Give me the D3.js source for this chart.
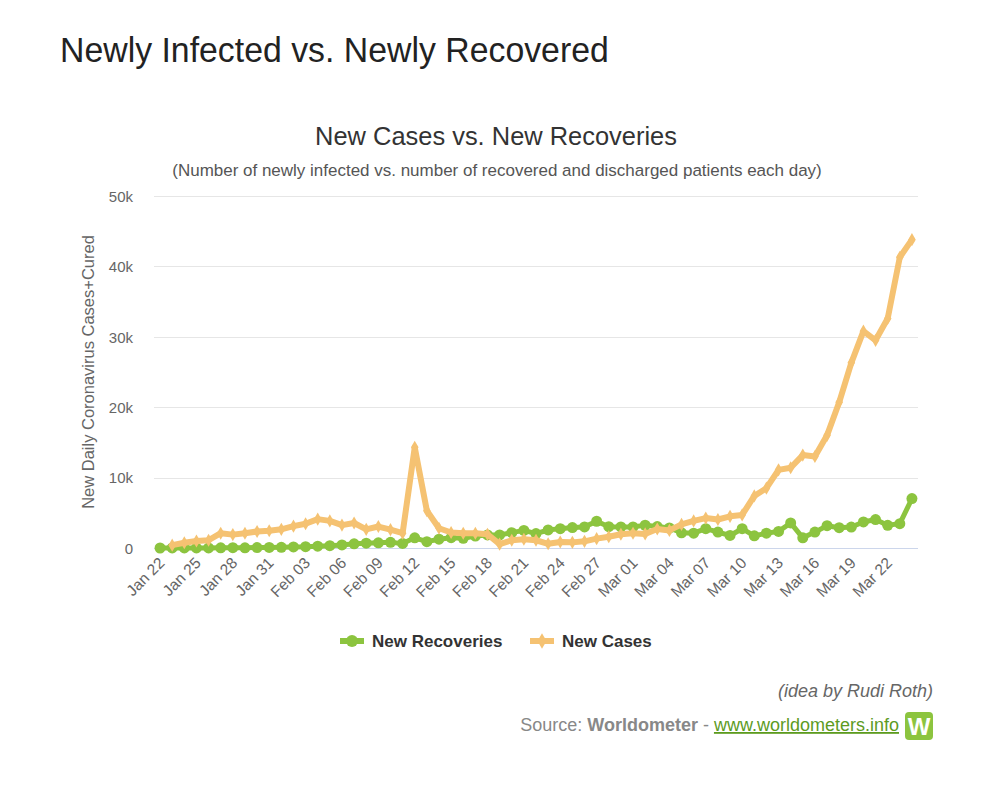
<!DOCTYPE html>
<html>
<head>
<meta charset="utf-8">
<script src="https://cdnjs.cloudflare.com/ajax/libs/d3/7.8.5/d3.min.js"></script>
<style>
  html, body { margin: 0; padding: 0; background: #fff; }
  svg { display: block; font-family: "Liberation Sans", Arial, Helvetica, sans-serif; }
</style>
</head>
<body>
<svg id="chart" width="993" height="800"></svg>
<script>
// ---------- data ----------
const dates = [
  "Jan 22","Jan 23","Jan 24","Jan 25","Jan 26","Jan 27","Jan 28","Jan 29","Jan 30","Jan 31",
  "Feb 01","Feb 02","Feb 03","Feb 04","Feb 05","Feb 06","Feb 07","Feb 08","Feb 09","Feb 10",
  "Feb 11","Feb 12","Feb 13","Feb 14","Feb 15","Feb 16","Feb 17","Feb 18","Feb 19","Feb 20",
  "Feb 21","Feb 22","Feb 23","Feb 24","Feb 25","Feb 26","Feb 27","Feb 28","Feb 29",
  "Mar 01","Mar 02","Mar 03","Mar 04","Mar 05","Mar 06","Mar 07","Mar 08","Mar 09","Mar 10",
  "Mar 11","Mar 12","Mar 13","Mar 14","Mar 15","Mar 16","Mar 17","Mar 18","Mar 19","Mar 20",
  "Mar 21","Mar 22","Mar 23","Mar 24"
];
const newRecoveries = [
  0, 2, 7, 3, 10, 23, 47, 19, 65, 87,
  100, 150, 180, 260, 330, 430, 590, 680, 730, 800,
  650, 1450, 900, 1250, 1470, 1380, 1700, 1850, 1850, 2180,
  2500, 2050, 2560, 2750, 2900, 3000, 3800, 3030, 3000,
  3000, 3230, 3050, 2840, 2160, 2100, 2740, 2260, 1780, 2740,
  1730, 2100, 2360, 3560, 1440, 2260, 3170, 2880, 2980, 3700,
  4040, 3220, 3460, 7020
];
const newCases = [
  null, 400, 750, 1000, 1100, 2100, 1900, 2100, 2350, 2450,
  2650, 3100, 3450, 4100, 3850, 3250, 3550, 2650, 3050, 2600,
  2100, 14300, 5300, 2800, 2200, 2100, 2100, 1950, 550, 1100,
  1240, 1100, 600, 850, 800, 950, 1330, 1600, 1950,
  2100, 2000, 2700, 2500, 3350, 3850, 4250, 4050, 4500, 4700,
  7400, 8500, 11100, 11400, 13200, 13000, 16000, 20700, 26300, 30800,
  29500, 32600, 41300, 43800
];
const yTicks = [0, 10000, 20000, 30000, 40000, 50000];
const yTickLabels = ["0", "10k", "20k", "30k", "40k", "50k"];
const seriesNames = ["New Recoveries", "New Cases"];

// ---------- layout ----------
const svg = d3.select("#chart");
const plot = { left: 154, right: 918, top: 196, bottom: 548 };
const colRec = "#8cc43f";
const colCas = "#f5c272";

const x = d3.scalePoint().domain(dates).range([plot.left, plot.right]).padding(0.5);
const y = d3.scaleLinear().domain([0, 50000]).range([plot.bottom, plot.top]);

// text compressed horizontally to a target width (narrow Helvetica look)
function narrowText(px, py, anchor, fs, color, str, target) {
  const g = svg.append("g");
  const t = g.append("text").attr("x", 0).attr("y", 0)
    .attr("text-anchor", anchor).attr("font-size", fs).attr("fill", color).text(str);
  const w = t.node().getComputedTextLength();
  g.attr("transform", `translate(${px},${py}) scale(${(target / w).toFixed(4)},1)`);
  return t;
}

narrowText(60, 62, "start", 35, "#222", "Newly Infected vs. Newly Recovered", 549);
narrowText(496, 145, "middle", 26, "#333", "New Cases vs. New Recoveries", 362);
narrowText(497, 176, "middle", 17, "#555",
  "(Number of newly infected vs. number of recovered and discharged patients each day)", 650);

// gridlines
svg.append("g").selectAll("line").data(yTicks.slice(1)).join("line")
  .attr("x1", plot.left).attr("x2", plot.right)
  .attr("y1", d => Math.round(y(d)) + 0.5).attr("y2", d => Math.round(y(d)) + 0.5)
  .attr("stroke", "#e6e6e6").attr("stroke-width", 1);

// y axis labels via d3 axis
const yAxis = d3.axisLeft(y).tickValues(yTicks)
  .tickFormat((d, i) => yTickLabels[i]).tickSize(0).tickPadding(0);
const gy = svg.append("g").attr("transform", `translate(${plot.left - 21},0)`).call(yAxis);
gy.select(".domain").remove();
gy.selectAll("text").attr("font-size", 15).attr("fill", "#666")
  .attr("font-family", "'Liberation Sans', Arial, sans-serif").attr("dy", "0.35em");

// y axis title
svg.append("text")
  .attr("transform", `translate(94,${(plot.top + plot.bottom) / 2}) rotate(-90)`)
  .attr("text-anchor", "middle").attr("font-size", 16.5).attr("fill", "#666")
  .text("New Daily Coronavirus Cases+Cured");

// x axis
const xAxis = d3.axisBottom(x).tickValues(dates.filter((d, i) => i % 3 === 0))
  .tickSize(0).tickPadding(0);
const gx = svg.append("g").attr("transform", `translate(0,${plot.bottom})`).call(xAxis);
gx.select(".domain").remove();
gx.selectAll("text")
  .attr("font-size", 15.5).attr("fill", "#666")
  .attr("font-family", "'Liberation Sans', Arial, sans-serif")
  .attr("text-anchor", "end")
  .attr("dy", null).attr("y", 0)
  .attr("transform", "translate(5,16) rotate(-45)");

svg.append("line")
  .attr("x1", plot.left).attr("x2", plot.right)
  .attr("y1", plot.bottom + 0.5).attr("y2", plot.bottom + 0.5)
  .attr("stroke", "#ccd6eb").attr("stroke-width", 1);

// series
const lineGen = d3.line()
  .defined(d => d[1] !== null)
  .x(d => x(d[0])).y(d => y(d[1]));

const recData = dates.map((d, i) => [d, newRecoveries[i]]);
const casData = dates.map((d, i) => [d, newCases[i]]);

svg.append("path").datum(recData).attr("d", lineGen)
  .attr("fill", "none").attr("stroke", colRec).attr("stroke-width", 5)
  .attr("stroke-linejoin", "round").attr("stroke-linecap", "round");
svg.append("g").selectAll("circle").data(recData).join("circle")
  .attr("cx", d => x(d[0])).attr("cy", d => y(d[1])).attr("r", 5.5)
  .attr("fill", colRec);

svg.append("path").datum(casData).attr("d", lineGen)
  .attr("fill", "none").attr("stroke", colCas).attr("stroke-width", 6)
  .attr("stroke-linejoin", "round").attr("stroke-linecap", "round");
const diamond = d3.symbol().type(d3.symbolDiamond).size(50);
svg.append("g").selectAll("path").data(casData.filter(d => d[1] !== null)).join("path")
  .attr("transform", d => `translate(${x(d[0])},${y(d[1])})`)
  .attr("d", diamond).attr("fill", colCas);

// legend
const legend = svg.append("g");
const legItems = [
  { name: seriesNames[0], color: colRec, sym: "circle", x: 340 },
  { name: seriesNames[1], color: colCas, sym: "diamond", x: 530 }
];
legItems.forEach(it => {
  const g = legend.append("g").attr("transform", `translate(${it.x},641)`);
  g.append("line").attr("x1", 0).attr("x2", 24).attr("y1", 0).attr("y2", 0)
    .attr("stroke", it.color).attr("stroke-width", 6);
  if (it.sym === "circle") {
    g.append("circle").attr("cx", 12).attr("cy", 0).attr("r", 6).attr("fill", it.color);
  } else {
    g.append("path").attr("transform", "translate(12,0)")
      .attr("d", d3.symbol().type(d3.symbolDiamond).size(70)).attr("fill", it.color);
  }
  g.append("text").attr("x", 32).attr("y", 6).attr("font-size", 17)
    .attr("font-weight", "bold").attr("fill", "#333").text(it.name);
});

// credits
svg.append("text").attr("x", 933).attr("y", 697).attr("text-anchor", "end")
  .attr("font-size", 18).attr("font-style", "italic").attr("fill", "#666")
  .text("(idea by Rudi Roth)");

const src = svg.append("text").attr("x", 899).attr("y", 731).attr("text-anchor", "end")
  .attr("font-size", 18).attr("fill", "#888");
src.append("tspan").text("Source: ");
src.append("tspan").attr("font-weight", "bold").text("Worldometer");
src.append("tspan").text(" - ");
src.append("tspan").attr("fill", "#5d9b1f").attr("text-decoration", "underline")
  .text("www.worldometers.info");

const logo = svg.append("g").attr("transform", "translate(905,712)");
logo.append("rect").attr("width", 28).attr("height", 28).attr("rx", 4)
  .attr("fill", "#8cc43f");
logo.append("text").attr("x", 14).attr("y", 23).attr("text-anchor", "middle")
  .attr("font-size", 24).attr("font-weight", "bold").attr("fill", "#fff").text("W");
</script>
</body>
</html>
